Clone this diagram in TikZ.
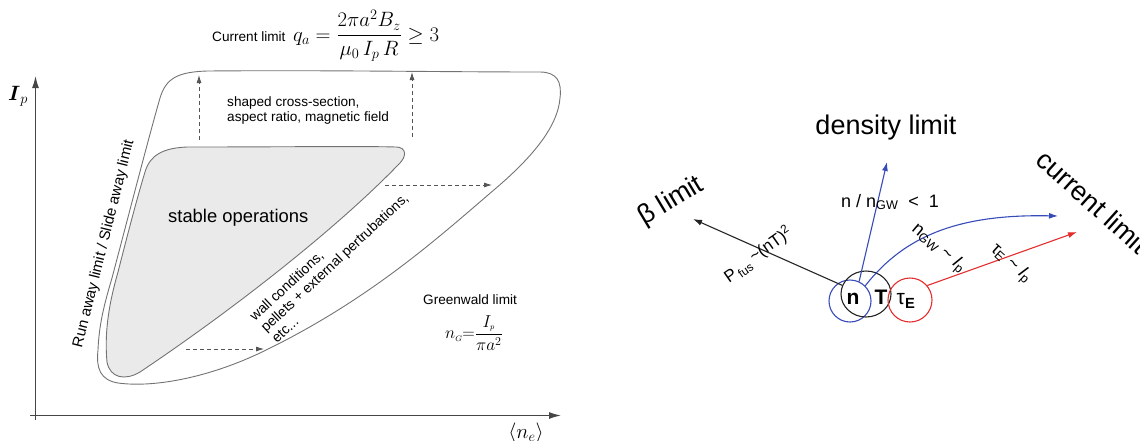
\documentclass[tikz,border=0pt]{standalone}
\usepackage{fontspec}
\setmainfont{Liberation Sans}
\usepackage{amsmath}
\usetikzlibrary{arrows.meta,shapes.geometric}
\definecolor{envgray}{RGB}{115,115,115}
\definecolor{fillgray}{RGB}{234,234,234}
\definecolor{axisgray}{RGB}{70,70,70}
\definecolor{dashgray}{RGB}{85,85,85}
\definecolor{lblue}{RGB}{55,75,185}
\definecolor{lred}{RGB}{228,45,45}
\definecolor{lblack}{RGB}{35,35,35}
\begin{document}
\begin{tikzpicture}[x=1pt,y=-1pt,
  env/.style={draw=envgray,line width=0.9pt},
  axisline/.style={draw=axisgray,line width=1.2pt,-{Latex[length=12pt,width=7pt]}},
  dasharrow/.style={draw=dashgray,line width=0.8pt,dash pattern=on 4pt off 3pt,-{Latex[length=8pt,width=5pt]}},
  small/.style={font=\fontsize{13.6}{16}\selectfont,inner sep=0pt},
  wall/.style={font=\fontsize{14}{16}\selectfont,inner sep=0pt,rotate=43,anchor=base west},
  lbl/.style={font=\fontsize{18}{22}\selectfont,inner sep=0pt},
  big/.style={font=\fontsize{27}{32}\selectfont,inner sep=0pt},
  rarrow/.style={line width=1.1pt,-{Latex[length=9pt,width=6pt]}},
  ring/.style={line width=1.1pt,inner sep=0pt}
]
\useasboundingbox (0,0) rectangle (1140,440);

% ---------------- left panel ----------------
\coordinate (yb) at (35.5,420);
\coordinate (yt) at (35.5,76);
\coordinate (xl) at (30,415.5);
\coordinate (xr) at (561,415.5);
\draw[axisline] (yb) -- (yt);
\draw[axisline] (xl) -- (xr);
\node[font=\fontsize{20}{24}\selectfont] (ip) at (18,96) {$\boldsymbol{I}_{p}$};
\node[font=\fontsize{20}{24}\selectfont] (ne) at (526,433) {$\langle n_{e}\rangle$};

% outer envelope
\draw[env] (207,71) .. controls (330,70) and (440,72) .. (540,72)
  .. controls (557,72) and (562,82) .. (560,98)
  .. controls (558,125) and (535,155) .. (495,189)
  .. controls (440,236) and (370,300) .. (262,352)
  .. controls (210,377) and (155,388) .. (118,383)
  .. controls (100,380) and (96,368) .. (98,350)
  .. controls (99,325) and (104,305) .. (112,278)
  .. controls (130,210) and (148,140) .. (160,98)
  .. controls (166,78) and (178,72) .. cycle;

% inner stable region
\draw[env,fill=fillgray] (187,147) .. controls (280,147) and (360,146) .. (396,147)
  .. controls (406,147) and (408,156) .. (398,165)
  .. controls (340,225) and (240,305) .. (140,372)
  .. controls (125,381) and (110,378) .. (107,362)
  .. controls (104,330) and (110,300) .. (118,272)
  .. controls (130,225) and (138,195) .. (145,172)
  .. controls (150,155) and (163,148) .. cycle;

% dashed arrows
\coordinate (d1a) at (199,140); \coordinate (d1b) at (199,75);
\coordinate (d2a) at (412,137); \coordinate (d2b) at (412,72);
\coordinate (d3a) at (385,185); \coordinate (d3b) at (492,185);
\coordinate (d4a) at (186,349); \coordinate (d4b) at (264,349);
\draw[dasharrow] (d1a) -- (d1b);
\draw[dasharrow] (d2a) -- (d2b);
\draw[dasharrow] (d3a) -- (d3b);
\draw[dasharrow] (d4a) -- (d4b);

% texts
\node[small,anchor=base west] (cl) at (212,41)
  {Current limit\ \ {\fontsize{19.5}{22}\selectfont$q_{a}=\dfrac{2\pi a^{2}B_{z}}{\mu_{0}\,I_{p}\,R}\geq 3$}};
\node[small,anchor=base west] (sh1) at (227,106) {shaped cross-section,};
\node[small,anchor=base west] (sh2) at (227,121) {aspect ratio, magnetic field};
\node[font=\fontsize{18.4}{22}\selectfont,inner sep=0pt,anchor=base west] (st) at (168,222) {stable operations};
\node[font=\fontsize{15}{18}\selectfont,inner sep=0pt,rotate=76] (run) at (104,244) {Run away limit / Slide away limit};
\node[wall] (w1) at (255,322) {wall conditions,};
\node[wall] (w2) at (266,333) {pellets + external pertrubations,};
\node[wall] (w3) at (277,344) {etc...};
\node[small,anchor=base west] (gw) at (423,304) {Greenwald limit};
\node[font=\fontsize{17}{20}\selectfont,inner sep=0pt] (ng) at (474,333)
  {$n_{\scriptscriptstyle G}{=}\dfrac{I_{\scriptscriptstyle p}}{\pi a^{2}}$};

% ---------------- right panel ----------------
\node[ring,draw=lblue,circle,minimum size=42pt] (cb) at (850,301) {};
\node[ring,draw=lblack,ellipse,minimum width=50pt,minimum height=46pt] (ck) at (866,294) {};
\node[ring,draw=lred,circle,minimum size=44pt] (cr) at (910,300) {};
\node[font=\fontsize{21}{24}\selectfont\bfseries,inner sep=0pt] (tn) at (853,299) {n};
\node[font=\fontsize{21}{24}\selectfont\bfseries,inner sep=0pt] (tt) at (881,297) {T};
\node[font=\fontsize{21}{24}\selectfont,inner sep=0pt] (te) at (906,301) {τ\textsubscript{\textbf{E}}};

\coordinate (betaend) at (693,219);
\coordinate (densend) at (887,162);
\coordinate (cur1) at (1058,216);
\coordinate (cur2) at (1077,232);
\draw[rarrow,draw=lblack] (ck.160) -- (betaend);
\draw[rarrow,draw=lblue] (cb.65) -- (densend);
\draw[rarrow,draw=lblue] (cb.45) .. controls (905,235) and (960,214) .. (cur1);
\draw[rarrow,draw=lred] (cr.40) -- (cur2);

\node[big,rotate=31,anchor=base west] (beta) at (644,226) {β limit};
\node[big] (dens) at (886,128) {density limit};
\node[big,rotate=-42,anchor=base west] (curr) at (1034,162) {current limit};

\node[lbl,anchor=base west] (ngw) at (841,207) {n / n\textsubscript{GW}\ \ <\ \ 1};
\node[font=\fontsize{17}{20}\selectfont,inner sep=0pt,rotate=35,anchor=base west] (pf) at (729,284)
  {P\textsubscript{\,fus}\,\raisebox{3pt}{\textasciitilde(nT)\textsuperscript{2}}};
\node[lbl,rotate=-40,anchor=base west] (ngi) at (911,230) {n\textsubscript{GW}\ \textasciitilde\ \textit{I}\textsubscript{p}};
\node[lbl,rotate=-42,anchor=base west] (tei) at (990,250) {τ\textsubscript{E}\ \textasciitilde\ \textit{I}\textsubscript{p}};
\end{tikzpicture}
\end{document}
